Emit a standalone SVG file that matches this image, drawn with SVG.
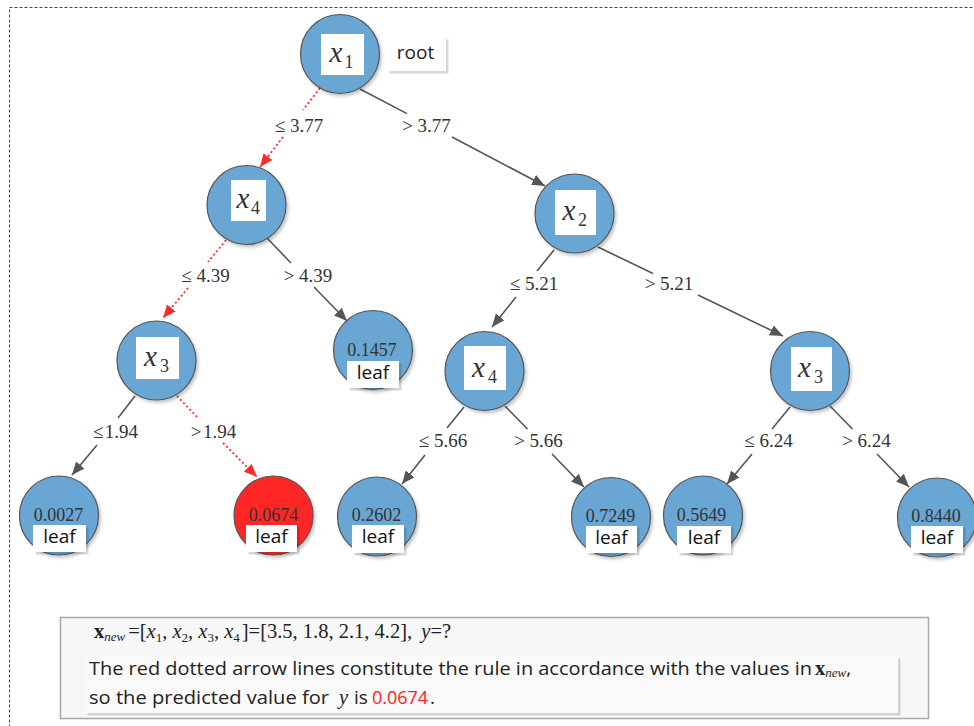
<svg xmlns="http://www.w3.org/2000/svg" width="974" height="726" viewBox="0 0 974 726">
<style>
.nd{fill:#69a6d3;stroke:#555;stroke-width:1.2}
.red{fill:#ff2626}
.wb{fill:#fff}
.lb{fill:#fff}
.var{font-family:"Liberation Serif",serif;font-style:italic;font-size:29px;fill:#333}
.sub{font-style:normal;font-size:18px}
.val{font-family:"Liberation Serif",serif;font-size:18px;fill:#333;text-anchor:middle}
.leaf{font-family:"Open Sans","Liberation Sans",sans-serif;font-size:19px;fill:#111;text-anchor:middle}
.el{font-family:"Liberation Serif",serif;font-size:19px;fill:#333;text-anchor:middle}
.e{stroke:#555;stroke-width:1.6;fill:none}
.er{stroke:#ff2a2a;stroke-width:1.8;fill:none;stroke-dasharray:2 2.5}
.ea{marker-end:url(#ag)}
.era{marker-end:url(#ar)}
.txt{font-family:"Open Sans","Liberation Sans",sans-serif;font-size:19px;fill:#222}
.tm{font-family:"Liberation Serif",serif;fill:#222}
</style>
<defs>
<filter id="sh" x="-20%" y="-20%" width="150%" height="150%"><feDropShadow dx="2" dy="2.5" stdDeviation="1.5" flood-color="#000" flood-opacity="0.22"/></filter>
<filter id="bsh" x="-10%" y="-10%" width="130%" height="140%"><feDropShadow dx="2.5" dy="2.5" stdDeviation="0.6" flood-color="#000" flood-opacity="0.15"/></filter>
<marker id="ag" markerWidth="14" markerHeight="11" refX="13" refY="5.5" orient="auto" markerUnits="userSpaceOnUse"><path d="M0,0 L13,5.5 L0,11 Z" fill="#555"/></marker>
<marker id="ar" markerWidth="14" markerHeight="11" refX="13" refY="5.5" orient="auto" markerUnits="userSpaceOnUse"><path d="M0,0 L13,5.5 L0,11 Z" fill="#ff2a2a"/></marker>
</defs>
<rect x="0" y="0" width="974" height="726" fill="#fff"/>
<rect x="9.5" y="7.5" width="1000" height="800" fill="none" stroke="#444" stroke-width="1" stroke-dasharray="3 2"/>

<g id="connectors">
<path class="er" d="M320,88 L303,110"/><path class="er era" d="M283,137 L260,167"/>
<path class="e" d="M360,89 L407,113.6"/><path class="e ea" d="M452,137 L545,186"/>
<path class="er" d="M226,240 L208,262"/><path class="er era" d="M188,288 L163,318"/>
<path class="e" d="M267,238 L291,263"/><path class="e ea" d="M314,287 L347,321"/>
<path class="e" d="M554,250 L537,271"/><path class="e ea" d="M516,297 L492,327"/>
<path class="e" d="M598,247 L653,273.5"/><path class="e ea" d="M698,295 L783,336"/>
<path class="e" d="M135,396 L118,418"/><path class="e ea" d="M97,445 L72,475"/>
<path class="er" d="M177,396 L198,418"/><path class="er era" d="M223,443 L257,477"/>
<path class="e" d="M464,407 L447,428"/><path class="e ea" d="M425,455 L402,484"/>
<path class="e" d="M505,406 L527.5,429"/><path class="e ea" d="M552,454 L584,487"/>
<path class="e" d="M790,407 L772,429"/><path class="e ea" d="M752,454 L727,484"/>
<path class="e" d="M830,406 L852.5,429"/><path class="e ea" d="M877,454 L909,487"/>
<text class="el" x="299" y="132">≤ 3.77</text>
<text class="el" x="426.5" y="132">&gt; 3.77</text>
<text class="el" x="205.5" y="282">≤ 4.39</text>
<text class="el" x="308" y="282">&gt; 4.39</text>
<text class="el" x="534" y="290">≤ 5.21</text>
<text class="el" x="669" y="290">&gt; 5.21</text>
<text class="el" x="115.5" y="438">≤<tspan dx="1.5">1.94</tspan></text>
<text class="el" x="213.5" y="438">&gt;<tspan dx="1.5">1.94</tspan></text>
<text class="el" x="443" y="447">≤ 5.66</text>
<text class="el" x="538.5" y="447">&gt; 5.66</text>
<text class="el" x="768.5" y="447">≤ 6.24</text>
<text class="el" x="866.5" y="447">&gt; 6.24</text>
</g>

<g id="n_x1">
<circle class="nd" cx="340" cy="54" r="39.5" filter="url(#sh)"/>
<rect class="wb" x="321" y="34" width="43" height="41"/>
<text class="var" x="329.5" y="62">x<tspan class="sub" dx="2" dy="6">1</tspan></text>
</g>
<g id="n_root">
<rect class="lb" x="387" y="37" width="59" height="34" filter="url(#bsh)"/>
<text class="leaf" x="415.5" y="59" style="fill:#222">root</text>
</g>
<g id="n_x4a">
<circle class="nd" cx="246.5" cy="205" r="39.5" filter="url(#sh)"/>
<rect class="wb" x="231" y="180" width="35" height="41"/>
<text class="var" x="236.5" y="207.5">x<tspan class="sub" dx="1.5" dy="6">4</tspan></text>
</g>
<g id="n_x2">
<circle class="nd" cx="574.5" cy="213.5" r="39.5" filter="url(#sh)"/>
<rect class="wb" x="555" y="190" width="41" height="45"/>
<text class="var" x="562.5" y="220">x<tspan class="sub" dx="2.5" dy="6">2</tspan></text>
</g>
<g id="n_x3a">
<circle class="nd" cx="156.5" cy="360.5" r="39.5" filter="url(#sh)"/>
<rect class="wb" x="136" y="337" width="43" height="42"/>
<text class="var" x="144" y="366">x<tspan class="sub" dx="3" dy="6">3</tspan></text>
</g>
<g id="n_x4b">
<circle class="nd" cx="484.5" cy="371" r="39.5" filter="url(#sh)"/>
<rect class="wb" x="464" y="346" width="42" height="44"/>
<text class="var" x="472" y="377">x<tspan class="sub" dx="3" dy="6">4</tspan></text>
</g>
<g id="n_x3b">
<circle class="nd" cx="810" cy="371" r="39.5" filter="url(#sh)"/>
<rect class="wb" x="791" y="347" width="41" height="44"/>
<text class="var" x="798" y="377">x<tspan class="sub" dx="3" dy="6">3</tspan></text>
</g>

<g id="n_l1457">
<circle class="nd" cx="373" cy="350" r="39.5" filter="url(#sh)"/>
<text class="val" x="372" y="356">0.1457</text>
<rect class="lb" x="347" y="361" width="52" height="27" filter="url(#bsh)"/>
<text class="leaf" x="373" y="379">leaf</text>
</g>
<g id="n_l0027">
<circle class="nd" cx="59" cy="515.5" r="39.5" filter="url(#sh)"/>
<text class="val" x="58.5" y="521">0.0027</text>
<rect class="lb" x="33" y="525" width="53" height="27" filter="url(#bsh)"/>
<text class="leaf" x="59.5" y="543">leaf</text>
</g>
<g id="n_l0674">
<circle class="nd red" cx="273.5" cy="515.5" r="39.5" filter="url(#sh)"/>
<text class="val" x="273.5" y="521">0.0674</text>
<rect class="lb" x="246" y="525" width="51" height="27" filter="url(#bsh)"/>
<text class="leaf" x="271.5" y="543">leaf</text>
</g>
<g id="n_l2602">
<circle class="nd" cx="377" cy="516.5" r="39.5" filter="url(#sh)"/>
<text class="val" x="376.5" y="521">0.2602</text>
<rect class="lb" x="352" y="525" width="52" height="28" filter="url(#bsh)"/>
<text class="leaf" x="378" y="543">leaf</text>
</g>
<g id="n_l7249">
<circle class="nd" cx="611" cy="517" r="39.5" filter="url(#sh)"/>
<text class="val" x="610.5" y="522">0.7249</text>
<rect class="lb" x="586" y="526" width="51" height="27" filter="url(#bsh)"/>
<text class="leaf" x="611.5" y="544">leaf</text>
</g>
<g id="n_l5649">
<circle class="nd" cx="703" cy="515.5" r="39.5" filter="url(#sh)"/>
<text class="val" x="701.5" y="521">0.5649</text>
<rect class="lb" x="677" y="526" width="54" height="27" filter="url(#bsh)"/>
<text class="leaf" x="704" y="544">leaf</text>
</g>
<g id="n_l8440">
<circle class="nd" cx="937" cy="517.5" r="39.5" filter="url(#sh)"/>
<text class="val" x="936" y="522">0.8440</text>
<rect class="lb" x="911" y="526" width="52" height="27" filter="url(#bsh)"/>
<text class="leaf" x="937" y="544">leaf</text>
</g>

<g id="note">
<rect x="60.5" y="617.5" width="868" height="101" fill="#f7f7f7" stroke="#a8a8a8" stroke-width="1.5"/>
<rect x="85" y="656" width="813" height="57" fill="#fafafa" filter="url(#bsh)"/>
<text class="tm" x="94" y="638" font-size="20.5"><tspan font-weight="bold">x</tspan><tspan font-style="italic" font-size="13" dy="3">new</tspan><tspan dy="-3" dx="3">=[</tspan><tspan font-style="italic">x</tspan><tspan font-size="13" dy="4">1</tspan><tspan dy="-4">, </tspan><tspan font-style="italic">x</tspan><tspan font-size="13" dy="4">2</tspan><tspan dy="-4">, </tspan><tspan font-style="italic">x</tspan><tspan font-size="13" dy="4">3</tspan><tspan dy="-4">, </tspan><tspan font-style="italic">x</tspan><tspan font-size="13" dy="4">4</tspan><tspan dy="-4" dx="2">]=[3.5, 1.8, 2.1, 4.2],  </tspan><tspan font-style="italic" dx="4">y</tspan><tspan>=?</tspan></text>
<text class="txt" x="89" y="675" textLength="723" lengthAdjust="spacingAndGlyphs">The red dotted arrow lines constitute the rule in accordance with the values in</text>
<text class="tm" x="815" y="675" font-size="20.5"><tspan font-weight="bold">x</tspan><tspan font-style="italic" font-size="13" dy="2">new</tspan><tspan class="txt" dy="-2">,</tspan></text>
<text class="txt" x="89" y="704" textLength="240" lengthAdjust="spacingAndGlyphs">so the predicted value for</text>
<text class="tm" x="339" y="704" font-size="20.5" font-style="italic">y</text>
<text class="txt" x="354" y="704">is</text>
<text class="txt" x="372" y="704" textLength="56" lengthAdjust="spacingAndGlyphs" style="fill:#ff2020">0.0674</text>
<text class="txt" x="430" y="704">.</text>
</g>
</svg>
